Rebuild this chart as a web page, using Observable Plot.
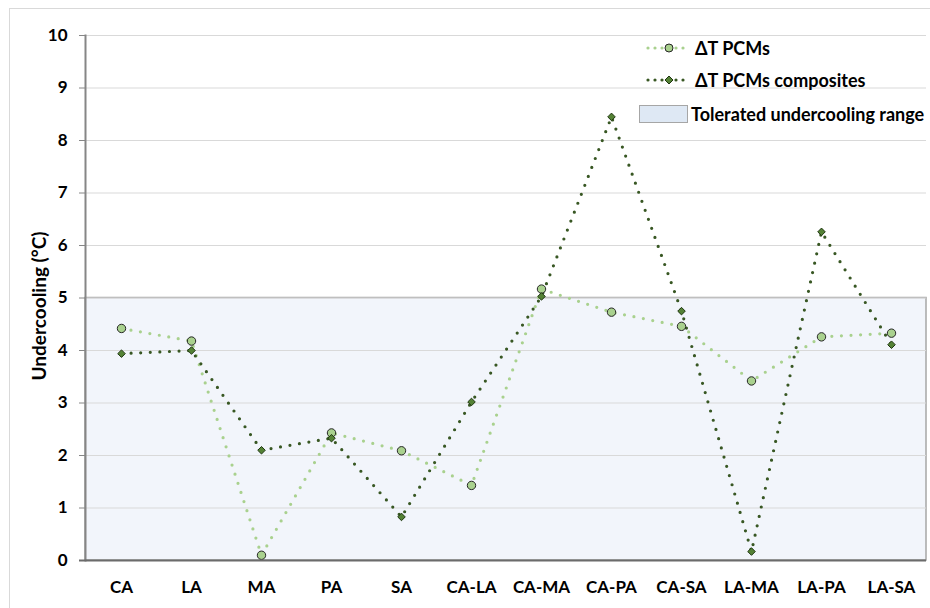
<!DOCTYPE html>
<html>
<head>
<meta charset="utf-8">
<script src="https://cdn.jsdelivr.net/npm/d3@7"></script>
<script src="https://cdn.jsdelivr.net/npm/@observablehq/plot@0.6"></script>
<style>
  html, body { margin: 0; padding: 0; background: #fff; }
  #wrap { position: relative; width: 930px; height: 608px; overflow: hidden; font-family: Lato, "Liberation Sans", sans-serif; }
  #border { position: absolute; left: 9px; top: 8px; width: 940px; height: 620px; border: 1px solid #D9D9D9; box-sizing: border-box; pointer-events: none; }
  #legend { position: absolute; left: 0; top: 0; }
  .item { position: absolute; display: flex; align-items: center; font-weight: bold; font-size: 18px; color: #000; white-space: nowrap; height: 20px; }
  .item svg { display: block; }
</style>
</head>
<body>
<div id="wrap">
  <div id="border"></div>
  <div id="chart"></div>
  <div id="legend"></div>
</div>
<script>
const categories = ["CA", "LA", "MA", "PA", "SA", "CA-LA", "CA-MA", "CA-PA", "CA-SA", "LA-MA", "LA-PA", "LA-SA"];
const pcmValues = [4.42, 4.18, 0.10, 2.43, 2.09, 1.43, 5.17, 4.73, 4.46, 3.42, 4.26, 4.33];
const compositeValues = [3.94, 4.00, 2.10, 2.33, 0.83, 3.02, 5.03, 8.45, 4.75, 0.17, 6.26, 4.11];
const yTicks = [0, 1, 2, 3, 4, 5, 6, 7, 8, 9, 10];
const toleratedRange = [0, 5];
const seriesNames = ["ΔT PCMs", "ΔT PCMs composites", "Tolerated undercooling range"];
const yLabel = "Undercooling (°C)";

const lightGreen = "#A9D18E";
const darkGreen = "#385723";
const diamondFill = "#548235";

const pcms = categories.map((c, i) => ({cat: c, v: pcmValues[i]}));
const comps = categories.map((c, i) => ({cat: c, v: compositeValues[i]}));

const chart = Plot.plot({
  width: 930,
  height: 608,
  marginLeft: 85,
  marginRight: 4,
  marginTop: 35,
  marginBottom: 48,
  style: {fontFamily: "Lato, 'Liberation Sans', sans-serif", fontSize: "17px", background: "transparent"},
  x: {type: "point", domain: categories, padding: 0.5},
  y: {domain: [0, 10]},
  marks: [
    Plot.rect([{y1: toleratedRange[0], y2: toleratedRange[1]}], {y1: "y1", y2: "y2", fill: "#F2F5FB", stroke: "#A6A6A6", strokeWidth: 1.5}),
    Plot.ruleY(yTicks.filter(t => t > 0), {stroke: "#D9D9D9", strokeWidth: 1}),
    Plot.frame({anchor: "left", stroke: "#868686", strokeWidth: 2}),
    Plot.axisY({ticks: yTicks, tickSize: 6, tickPadding: 12, fontWeight: "bold", fontSize: 17, label: null, stroke: "#868686", color: "#000"}),
    Plot.axisX({tickSize: 0, tickPadding: 20, fontWeight: "bold", fontSize: 17, label: null, color: "#000"}),
    Plot.text([yLabel], {frameAnchor: "left", textAnchor: "middle", dx: -46, dy: 8, rotate: -90, fontWeight: "bold", fontSize: 19, fill: "#000"}),
    Plot.line(pcms, {x: "cat", y: "v", stroke: lightGreen, strokeWidth: 3.2, strokeDasharray: "0 9.6", strokeLinecap: "round"}),
    Plot.line(comps, {x: "cat", y: "v", stroke: darkGreen, strokeWidth: 3.2, strokeDasharray: "0 9.6", strokeLinecap: "round"}),
    Plot.dot(pcms, {x: "cat", y: "v", r: 4.2, fill: lightGreen, stroke: "#262626", strokeWidth: 1}),
    Plot.dot(comps, {x: "cat", y: "v", r: 3.4, symbol: "diamond2", fill: diamondFill, stroke: "#1E3510", strokeWidth: 1}),
    Plot.ruleY([0], {stroke: "#6B6B6B", strokeWidth: 2, insetLeft: -6})
  ]
});
document.getElementById("chart").appendChild(chart);

// Legend
const legend = document.getElementById("legend");
function lineSymbol(color, kind) {
  const ns = "http://www.w3.org/2000/svg";
  const svg = document.createElementNS(ns, "svg");
  svg.setAttribute("width", 46); svg.setAttribute("height", 14);
  const l = document.createElementNS(ns, "line");
  l.setAttribute("x1", 2); l.setAttribute("x2", 44); l.setAttribute("y1", 7); l.setAttribute("y2", 7);
  l.setAttribute("stroke", color); l.setAttribute("stroke-width", 3.2);
  l.setAttribute("stroke-dasharray", "0 7"); l.setAttribute("stroke-linecap", "round");
  svg.appendChild(l);
  if (kind === "circle") {
    const c = document.createElementNS(ns, "circle");
    c.setAttribute("cx", 23); c.setAttribute("cy", 7); c.setAttribute("r", 4);
    c.setAttribute("fill", lightGreen); c.setAttribute("stroke", "#262626");
    svg.appendChild(c);
  } else {
    const p = document.createElementNS(ns, "path");
    p.setAttribute("d", "M23,3 L27,7 L23,11 L19,7 Z");
    p.setAttribute("fill", diamondFill); p.setAttribute("stroke", "#1E3510");
    svg.appendChild(p);
  }
  return svg;
}
function addItem(top, left, sym, text) {
  const d = document.createElement("div");
  d.className = "item";
  d.style.top = top + "px"; d.style.left = left + "px";
  d.appendChild(sym);
  const s = document.createElement("span");
  s.textContent = text;
  s.style.marginLeft = "3px";
  d.appendChild(s);
  legend.appendChild(d);
}
addItem(38, 646, lineSymbol(lightGreen, "circle"), seriesNames[0]);
addItem(70, 646, lineSymbol(darkGreen, "diamond"), seriesNames[1]);
const sw = document.createElement("div");
sw.style.cssText = "width:49px;height:18px;background:#DEE8F4;border:1px solid #A6A6A6;box-sizing:border-box;";
addItem(104, 639, sw, seriesNames[2]);
</script>
</body>
</html>
